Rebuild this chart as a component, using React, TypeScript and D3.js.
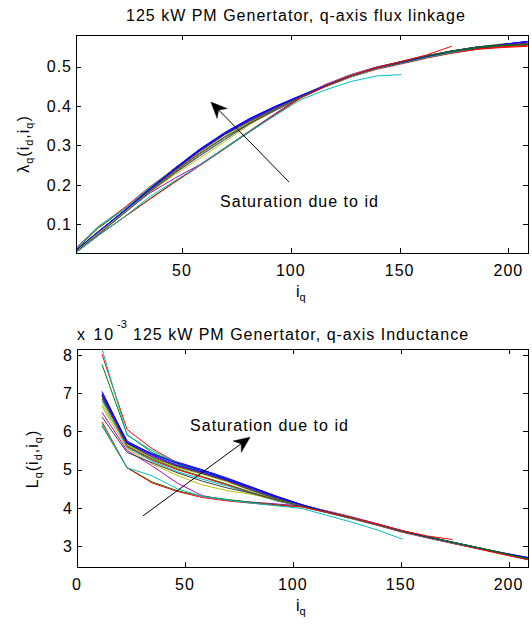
import React from 'react';
import * as d3 from 'd3';

// q-axis current grid (A)
const iqGrid = [11.6, 23.2, 34.8, 46.4, 58.0, 69.6, 81.2, 92.8, 104.4, 116.0, 127.6, 139.2, 150.8, 162.4, 174.0, 185.6, 197.2, 208.8];
const iqTopStart = 1.3;

// Top plot: q-axis flux linkage (Wb), first value at iqTopStart, then along iqGrid
const lambdaSeries: number[][] = [
  [0.034, 0.0818, 0.1327, 0.1886, 0.2413, 0.2900, 0.3327, 0.3686, 0.3990, 0.4260, 0.4524, 0.4772, 0.4969, 0.5112, 0.5262, 0.5394, 0.5494, 0.5561, 0.5638],
  [0.036, 0.0899, 0.1373, 0.1897, 0.2390, 0.2871, 0.3306, 0.3638, 0.3944, 0.4239, 0.4512, 0.4759, 0.4956, 0.5112, 0.5262, 0.5377, 0.5475, 0.5522, 0.5554],
  [0.040, 0.0934, 0.1404, 0.1931, 0.2404, 0.2883, 0.3313, 0.3670, 0.3972, 0.4249, 0.4501, 0.4747, 0.4942, 0.5082, 0.5229, 0.5342, 0.5438, 0.5482, 0.5512],
  [0.038, 0.0951, 0.1369, 0.1914, 0.2399, 0.2877, 0.3313, 0.3646, 0.3944, 0.4239, 0.4512, 0.4759, 0.4956, 0.5097, 0.5246, 0.5359, 0.5457, 0.5522, 0.5554],
  [0.033, 0.0806, 0.1322, 0.1862, 0.2366, 0.2854, 0.3285, 0.3622, 0.3935, 0.4249, 0.4536, 0.4785, 0.4983, 0.5127, 0.5262, 0.5377, 0.5475, 0.5541, 0.5575],
  [0.032, 0.0777, 0.1311, 0.1844, 0.2343, 0.2830, 0.3257, 0.3605, 0.3916, 0.4228, 0.4524, 0.4772, 0.4969, 0.5112, 0.5262, 0.5394, 0.5494, 0.5561, 0.5596],
  [0.033, 0.0795, 0.1318, 0.1855, 0.2357, 0.2842, 0.3271, 0.3613, 0.3925, 0.4239, 0.4512, 0.4759, 0.4956, 0.5097, 0.5246, 0.5359, 0.5457, 0.5522, 0.5554],
  [0.034, 0.0812, 0.1334, 0.1879, 0.2399, 0.2888, 0.3313, 0.3678, 0.3981, 0.4260, 0.4524, 0.4772, 0.4969, 0.5112, 0.5262, 0.5394, 0.5494, 0.5561, 0.5617],
  [0.033, 0.0800, 0.1304, 0.1837, 0.2329, 0.2796, 0.3216, 0.3573, 0.3898, 0.4218, 0.4501, 0.4747, 0.4956, 0.5097, 0.5246, 0.5377, 0.5475, 0.5541, 0.5575],
  [0.033, 0.0806, 0.1299, 0.1827, 0.2320, 0.2784, 0.3202, 0.3557, 0.3879, 0.4207, 0.4489, 0.4734, 0.4928, 0.5067, 0.5213, 0.5342, 0.5438, 0.5502, 0.5533],
  [0.032, 0.0789, 0.1295, 0.1817, 0.2297, 0.2755, 0.3181, 0.3548, 0.3879, 0.4207, 0.4489, 0.4734, 0.4942, 0.5082, 0.5229, 0.5359, 0.5475],
  [0.031, 0.0754, 0.1276, 0.1775, 0.2158, 0.2506, 0.2923, 0.3370, 0.3805, 0.4228, 0.4547, 0.4798, 0.4983, 0.5127, 0.5278, 0.5394, 0.5494, 0.5561, 0.5596],
  [0.031, 0.0771, 0.1288, 0.1792, 0.2250, 0.2668, 0.3097, 0.3532, 0.3898, 0.4239, 0.4536, 0.4785, 0.4969, 0.5112, 0.5262, 0.5394, 0.5494, 0.5581],
  [0.030, 0.0740, 0.1264, 0.1803, 0.2283, 0.2726, 0.3146, 0.3557, 0.3898, 0.4228, 0.4512, 0.4759, 0.4956, 0.5097, 0.5246, 0.5377, 0.5475, 0.5541, 0.5575],
  [0.034, 0.0806, 0.1322, 0.1872, 0.2376, 0.2865, 0.3292, 0.3654, 0.3963, 0.4249, 0.4524, 0.4772, 0.4969, 0.5112, 0.5262, 0.5394, 0.5494, 0.5561, 0.5638],
  [0.028, 0.0713, 0.1172, 0.1629, 0.2065, 0.2494, 0.2937, 0.3362, 0.3786, 0.4207, 0.4501, 0.4759, 0.4969, 0.5127, 0.5278, 0.5394, 0.5494, 0.5541, 0.5554],
  [0.029, 0.0725, 0.1172, 0.1618, 0.2056, 0.2477, 0.2909, 0.3345, 0.3777, 0.4197, 0.4501, 0.4759, 0.4969, 0.5127, 0.5294, 0.5516],
  [0.028, 0.0719, 0.1172, 0.1684, 0.2088, 0.2494, 0.2923, 0.3345, 0.3758, 0.4155, 0.4408, 0.4619, 0.4761, 0.4795],
];

// Bottom plot: q-axis inductance (x 10^-3 H) along iqGrid
const lqSeries: number[][] = [
  [7.05, 5.72, 5.42, 5.20, 5.00, 4.78, 4.54, 4.30, 4.08, 3.90, 3.74, 3.57, 3.39, 3.24, 3.10, 2.96, 2.82, 2.70],
  [7.75, 5.92, 5.45, 5.15, 4.95, 4.75, 4.48, 4.25, 4.06, 3.89, 3.73, 3.56, 3.39, 3.24, 3.09, 2.95, 2.80, 2.66],
  [8.02, 6.05, 5.55, 5.18, 4.97, 4.76, 4.52, 4.28, 4.07, 3.88, 3.72, 3.55, 3.37, 3.22, 3.07, 2.93, 2.78, 2.64],
  [8.16, 5.90, 5.50, 5.17, 4.96, 4.76, 4.49, 4.25, 4.06, 3.89, 3.73, 3.56, 3.38, 3.23, 3.08, 2.94, 2.80, 2.66],
  [6.95, 5.70, 5.35, 5.10, 4.92, 4.72, 4.46, 4.24, 4.07, 3.91, 3.75, 3.58, 3.40, 3.24, 3.09, 2.95, 2.81, 2.67],
  [6.70, 5.65, 5.30, 5.05, 4.88, 4.68, 4.44, 4.22, 4.05, 3.90, 3.74, 3.57, 3.39, 3.24, 3.10, 2.96, 2.82, 2.68],
  [6.85, 5.68, 5.33, 5.08, 4.90, 4.70, 4.45, 4.23, 4.06, 3.89, 3.73, 3.56, 3.38, 3.23, 3.08, 2.94, 2.80, 2.66],
  [7.00, 5.75, 5.40, 5.17, 4.98, 4.76, 4.53, 4.29, 4.08, 3.90, 3.74, 3.57, 3.39, 3.24, 3.10, 2.96, 2.82, 2.69],
  [6.90, 5.62, 5.28, 5.02, 4.82, 4.62, 4.40, 4.20, 4.04, 3.88, 3.72, 3.56, 3.38, 3.23, 3.09, 2.95, 2.81, 2.67],
  [6.95, 5.60, 5.25, 5.00, 4.80, 4.60, 4.38, 4.18, 4.03, 3.87, 3.71, 3.54, 3.36, 3.21, 3.07, 2.93, 2.79, 2.65],
  [6.80, 5.58, 5.22, 4.95, 4.75, 4.57, 4.37, 4.18, 4.03, 3.87, 3.71, 3.55, 3.37, 3.22, 3.08, 2.95],
  [6.50, 5.50, 5.10, 4.65, 4.32, 4.20, 4.15, 4.10, 4.05, 3.92, 3.76, 3.58, 3.40, 3.25, 3.10, 2.96, 2.82, 2.68],
  [6.65, 5.55, 5.15, 4.85, 4.60, 4.45, 4.35, 4.20, 4.06, 3.91, 3.75, 3.57, 3.39, 3.24, 3.10, 2.96, 2.83],
  [6.38, 5.45, 5.18, 4.92, 4.70, 4.52, 4.38, 4.20, 4.05, 3.89, 3.73, 3.56, 3.38, 3.23, 3.09, 2.95, 2.81, 2.67],
  [6.95, 5.70, 5.38, 5.12, 4.94, 4.73, 4.50, 4.27, 4.07, 3.90, 3.74, 3.57, 3.39, 3.24, 3.10, 2.96, 2.82, 2.70],
  [6.15, 5.05, 4.68, 4.45, 4.30, 4.22, 4.14, 4.08, 4.03, 3.88, 3.73, 3.57, 3.40, 3.25, 3.10, 2.96, 2.81, 2.66],
  [6.25, 5.05, 4.65, 4.43, 4.27, 4.18, 4.12, 4.07, 4.02, 3.88, 3.73, 3.57, 3.40, 3.26, 3.17],
  [6.20, 5.05, 4.84, 4.50, 4.30, 4.20, 4.12, 4.05, 3.98, 3.80, 3.62, 3.42, 3.18],
];

const colorOrder = ['#0000ff', '#008000', '#ff0000', '#00bfbf', '#bf00bf', '#bfbf00', '#404040'];

const topXTicks = [50, 100, 150, 200];
const topYTicks = [0.1, 0.2, 0.3, 0.4, 0.5];
const botXTicks = [0, 50, 100, 150, 200];
const botYTicks = [3, 4, 5, 6, 7, 8];

const topTitle = '125 kW PM Genertator, q-axis flux linkage';
const botTitle = '125 kW PM Genertator, q-axis Inductance';
const noteText = 'Saturation due to id';

// annotation anchors in data coordinates
const topArrow = { from: [99.2, 0.207], to: [63.3, 0.41], text: [67.5, 0.144] };
const botArrow = { from: [30.6, 3.79], to: [80.2, 5.85], text: [52.4, 6.0] };

const FONT = '"Liberation Sans", Arial, Helvetica, sans-serif';
const FS = 16;
const LS = 1;

type Box = { l: number; r: number; t: number; b: number };

function Arrow({ x1, y1, x2, y2 }: { x1: number; y1: number; x2: number; y2: number }) {
  const dx = x2 - x1, dy = y2 - y1;
  const len = Math.hypot(dx, dy);
  const ux = dx / len, uy = dy / len;
  const px = -uy, py = ux;
  const hl = 16, hw = 7, notch = 11;
  const bx = x2 - ux * hl, by = y2 - uy * hl;
  const nx = x2 - ux * notch, ny = y2 - uy * notch;
  const head = `M${x2},${y2} L${bx + px * hw},${by + py * hw} L${nx},${ny} L${bx - px * hw},${by - py * hw} Z`;
  return (
    <g>
      <line x1={x1} y1={y1} x2={nx} y2={ny} stroke="#000" strokeWidth={1} />
      <path d={head} fill="#000" stroke="#000" strokeWidth={0.5} />
    </g>
  );
}

function Frame({ box, xs, ys, xTicks, yTicks, xFmt, yFmt }: any) {
  const tl = 5;
  return (
    <g>
      <g shapeRendering="crispEdges" stroke="#000" strokeWidth={1}>
        <rect x={box.l} y={box.t} width={box.r - box.l} height={box.b - box.t} fill="none" />
        {xTicks.map((t: number) => (
          <g key={'x' + t}>
            <line x1={Math.round(xs(t)) + 0.5} x2={Math.round(xs(t)) + 0.5} y1={box.b} y2={box.b - tl} />
            <line x1={Math.round(xs(t)) + 0.5} x2={Math.round(xs(t)) + 0.5} y1={box.t} y2={box.t + tl} />
          </g>
        ))}
        {yTicks.map((t: number) => (
          <g key={'y' + t}>
            <line x1={box.l} x2={box.l + tl} y1={Math.round(ys(t)) + 0.5} y2={Math.round(ys(t)) + 0.5} />
            <line x1={box.r} x2={box.r - tl} y1={Math.round(ys(t)) + 0.5} y2={Math.round(ys(t)) + 0.5} />
          </g>
        ))}
      </g>
      <g fontFamily={FONT} fontSize={FS} letterSpacing={LS} fill="#000">
        {xTicks.map((t: number) => (
          <text key={'xl' + t} x={xs(t)} y={box.b + 23} textAnchor="middle">{xFmt(t)}</text>
        ))}
        {yTicks.map((t: number) => (
          <text key={'yl' + t} x={box.l - 4} y={ys(t)} dy="0.36em" textAnchor="end">{yFmt(t)}</text>
        ))}
      </g>
    </g>
  );
}

export default function App() {
  const W = 532, H = 624;
  const topBox: Box = { l: 76, r: 528, t: 35, b: 253 };
  const botBox: Box = { l: 77, r: 528, t: 349, b: 567 };

  const xTop = d3.scaleLinear().domain([iqTopStart, 209]).range([topBox.l, topBox.r]);
  const yTop = d3.scaleLinear().domain([0.027, 0.58]).range([topBox.b, topBox.t]);
  const xBot = d3.scaleLinear().domain([0, 209]).range([botBox.l, botBox.r]);
  const yBot = d3.scaleLinear().domain([2.45, 8.16]).range([botBox.b, botBox.t]);

  const topX = [iqTopStart, ...iqGrid];
  const lineTop = d3.line<number>().x((_, i) => xTop(topX[i])).y((d) => yTop(d));
  const lineBot = d3.line<number>().x((_, i) => xBot(iqGrid[i])).y((d) => yBot(d));

  const fmt = d3.format('.1f');

  return (
    <svg width={W} height={H} style={{ position: 'absolute', left: 0, top: 0, background: '#fff' }}>
      <rect x={0} y={0} width={W} height={H} fill="#fff" />
      <defs>
        <clipPath id="clipTop"><rect x={topBox.l} y={topBox.t} width={topBox.r - topBox.l} height={topBox.b - topBox.t} /></clipPath>
        <clipPath id="clipBot"><rect x={botBox.l} y={botBox.t} width={botBox.r - botBox.l} height={botBox.b - botBox.t} /></clipPath>
      </defs>

      {/* Top plot */}
      <g clipPath="url(#clipTop)">
        {lambdaSeries.map((s, i) => (
          <path key={i} d={lineTop(s) || ''} fill="none" stroke={colorOrder[i % colorOrder.length]} strokeWidth={1} />
        ))}
      </g>
      <Frame box={topBox} xs={xTop} ys={yTop} xTicks={topXTicks} yTicks={topYTicks}
        xFmt={(t: number) => String(t)} yFmt={(t: number) => fmt(t)} />
      <text x={126} y={21} fontFamily={FONT} fontSize={FS} letterSpacing={LS}>{topTitle}</text>
      <text x={xTop(topArrow.text[0])} y={yTop(topArrow.text[1])} fontFamily={FONT} fontSize={FS} letterSpacing={LS}>{noteText}</text>
      <Arrow x1={xTop(topArrow.from[0])} y1={yTop(topArrow.from[1])} x2={xTop(topArrow.to[0])} y2={yTop(topArrow.to[1])} />
      <text x={296} y={297} fontFamily={FONT} fontSize={FS}>
        i<tspan fontSize={11} dy={4}>q</tspan>
      </text>
      <text transform="translate(29,144) rotate(-90)" textAnchor="middle" fontFamily={FONT} fontSize={FS} letterSpacing={LS}>
        λ<tspan fontSize={11} dy={4}>q</tspan><tspan dy={-4}>(i</tspan><tspan fontSize={11} dy={4}>d</tspan><tspan dy={-4}>,i</tspan><tspan fontSize={11} dy={4}>q</tspan><tspan dy={-4}>)</tspan>
      </text>

      {/* Bottom plot */}
      <g clipPath="url(#clipBot)">
        {lqSeries.map((s, i) => (
          <path key={i} d={lineBot(s) || ''} fill="none" stroke={colorOrder[i % colorOrder.length]} strokeWidth={1} />
        ))}
      </g>
      <Frame box={botBox} xs={xBot} ys={yBot} xTicks={botXTicks} yTicks={botYTicks}
        xFmt={(t: number) => String(t)} yFmt={(t: number) => String(t)} />
      <text x={77} y={340} fontFamily={FONT} fontSize={FS} letterSpacing={2}>x 10</text>
      <text x={117} y={328} fontFamily={FONT} fontSize={11}>-3</text>
      <text x={133} y={340} fontFamily={FONT} fontSize={FS} letterSpacing={LS}>{botTitle}</text>
      <text x={xBot(botArrow.text[0])} y={yBot(botArrow.text[1])} fontFamily={FONT} fontSize={FS} letterSpacing={LS}>{noteText}</text>
      <Arrow x1={xBot(botArrow.from[0])} y1={yBot(botArrow.from[1])} x2={xBot(botArrow.to[0])} y2={yBot(botArrow.to[1])} />
      <text x={296} y={611} fontFamily={FONT} fontSize={FS}>
        i<tspan fontSize={11} dy={4}>q</tspan>
      </text>
      <text transform="translate(38,459) rotate(-90)" textAnchor="middle" fontFamily={FONT} fontSize={FS} letterSpacing={LS}>
        L<tspan fontSize={11} dy={4}>q</tspan><tspan dy={-4}>(i</tspan><tspan fontSize={11} dy={4}>d</tspan><tspan dy={-4}>,i</tspan><tspan fontSize={11} dy={4}>q</tspan><tspan dy={-4}>)</tspan>
      </text>
    </svg>
  );
}
